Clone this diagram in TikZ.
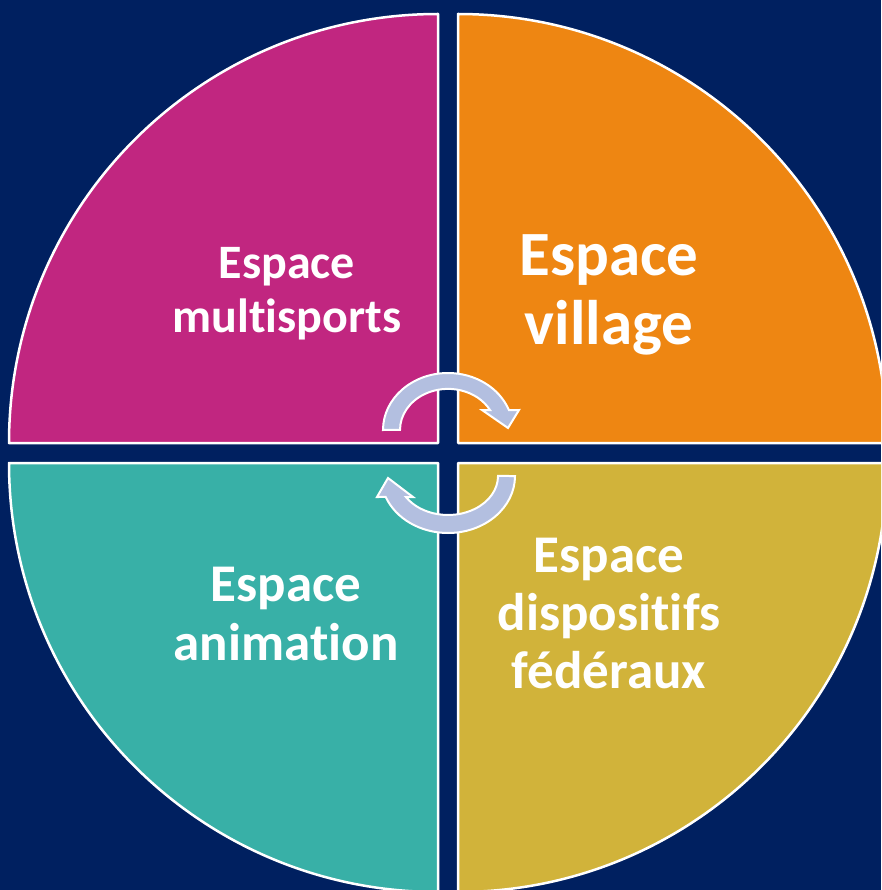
\documentclass[tikz,border=0pt]{standalone}
\usepackage{fontspec}
\setmainfont{Carlito}[Ligatures=NoCommon]
\definecolor{bgnavy}{RGB}{0,32,96}
\definecolor{qmag}{RGB}{193,38,128}
\definecolor{qorange}{RGB}{238,134,18}
\definecolor{qteal}{RGB}{56,176,167}
\definecolor{qgold}{RGB}{209,179,58}
\definecolor{arrowfill}{RGB}{179,191,224}
\begin{document}
\begin{tikzpicture}[x=1pt,y=1pt,
  quad/.style={draw=white,line width=2.5pt,line join=round},
  cyc/.style={fill=arrowfill,draw=white,line width=2pt,line join=miter},
  lbl/.style={text=white,align=center,inner sep=0pt,font=\bfseries}]
\useasboundingbox (0,0) rectangle (881,-890);
\clip (0,0) rectangle (881,-890);
\fill[bgnavy] (0,0) rectangle (881,-890);
% quadrants
\draw[quad,fill=qmag] (438,-443) -- ++(-429,0) arc[start angle=180,end angle=90,radius=429] -- cycle;
\draw[quad,fill=qorange] (458,-443) -- ++(0,429) arc[start angle=90,end angle=0,radius=429] -- cycle;
\draw[quad,fill=qteal] (438,-463) -- ++(-429,0) arc[start angle=180,end angle=270,radius=429] -- cycle;
\draw[quad,fill=qgold] (458,-463) -- ++(429,0) arc[start angle=0,end angle=-90,radius=429] -- cycle;
% cycle arrows
\coordinate (ca) at (448,-430);
\coordinate (cb) at (448,-476);
\draw[cyc] (383,-430) arc[start angle=180,end angle=20.5,x radius=65,y radius=57]
  -- (519,-410) -- (508,-428) -- (482,-410)
  -- (490,-410) arc[start angle=29,end angle=180,x radius=48,y radius=41] -- cycle;
\draw[cyc] (515,-476) arc[start angle=0,end angle=-158.4,x radius=67,y radius=57]
  -- (377,-497) -- (388,-478) -- (413,-497)
  -- (405.9,-497) arc[start angle=-147.4,end angle=0,x radius=50,y radius=39] -- cycle;
% labels
\node[lbl,font=\bfseries\fontsize{48}{54}\selectfont] (ms) at (287,-294) {Espace\\multisports};
\node[lbl,font=\bfseries\fontsize{63}{69}\selectfont] (vi) at (609,-295) {Espace\\village};
\node[lbl,font=\bfseries\fontsize{53}{58}\selectfont] (df) at (609,-614) {Espace\\dispositifs\\fédéraux};
\node[lbl,font=\bfseries\fontsize{53}{59}\selectfont] (an) at (286,-614) {Espace\\animation};
\end{tikzpicture}
\end{document}
